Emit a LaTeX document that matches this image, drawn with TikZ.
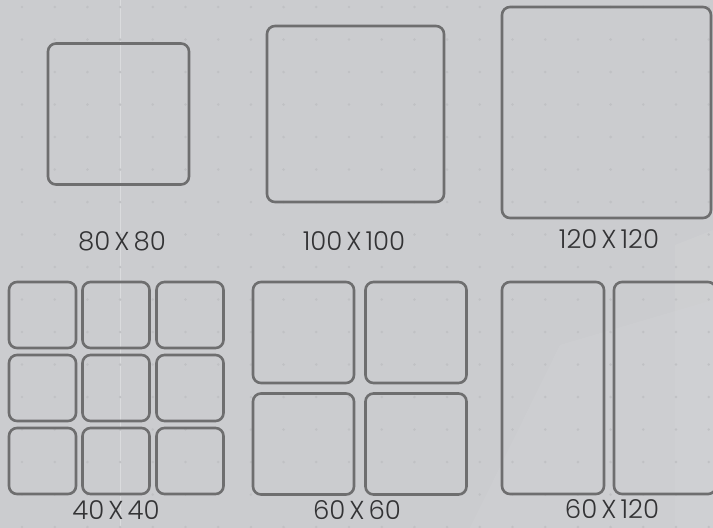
\documentclass[tikz,border=0pt]{standalone}
\usepackage{fontspec}
\newfontfamily\sizefont{Poppins Light}
\definecolor{bggray}{HTML}{CBCCCF}
\definecolor{dotgray}{HTML}{C0C1C4}
\definecolor{tilegray}{HTML}{6E6E6F}
\definecolor{labelgray}{HTML}{333335}
\newcommand{\tilesize}[2]{#1\hspace{4pt}X\hspace{4pt}#2}
\begin{document}
\begin{tikzpicture}[x=1pt,y=-1pt,
	tile/.style={draw=tilegray, line width=2.6pt, rounded corners=8pt, inner sep=0pt},
	sizelabel/.style={font=\sizefont\fontsize{26}{26}\selectfont, text=labelgray, inner sep=0pt}]
	\useasboundingbox (0,0) rectangle (713,528);
	\clip (0,0) rectangle (713,528);
	\fill[bggray] (0,0) rectangle (713,528);
	
	% background pattern
	\fill[white, opacity=.05] (470,528) -- (560,345) -- (713,300) -- (713,528) -- cycle;
	\fill[white, opacity=.06] (675,245) -- (713,230) -- (713,528) -- (675,528) -- cycle;
	\draw[white, opacity=.3, line width=.6pt] (120,0) -- (120,528);
	\foreach \i in {0,...,21}
	\foreach \j in {0,...,16}
	\fill[dotgray] (22+32.7*\i, 7+32.5*\j) circle (1.4);
	
	% single tiles
	\node[tile, minimum width=141pt, minimum height=141pt] (t80) at (118.5,114) {};
	\node[tile, minimum width=177pt, minimum height=176pt] (t100) at (355.5,114) {};
	\node[tile, minimum width=209pt, minimum height=211pt] (t120) at (606.5,112.5) {};
	
	% 40 x 40
	\foreach \c/\x in {1/42.5, 2/116, 3/190}
	\foreach \r/\y in {1/315, 2/388, 3/461}
	\node[tile, minimum width=67pt, minimum height=66pt] (s\c\r) at (\x,\y) {};
	
	% 60 x 60
	\foreach \c/\x in {1/303.5, 2/416}
	\foreach \r/\y in {1/332.5, 2/444}
	\node[tile, minimum width=101pt, minimum height=101pt] (m\c\r) at (\x,\y) {};
	
	% 60 x 120
	\foreach \c/\x in {1/553, 2/665}
	\node[tile, minimum width=102pt, minimum height=212pt] (r\c) at (\x,388) {};
	
	% labels
	\node[sizelabel] (l80) at (122,241) {\tilesize{80}{80}};
	\node[sizelabel] (l100) at (354,241) {\tilesize{100}{100}};
	\node[sizelabel] (l120) at (609,239) {\tilesize{120}{120}};
	\node[sizelabel] (l40) at (116,510) {\tilesize{40}{40}};
	\node[sizelabel] (l60) at (357,510) {\tilesize{60}{60}};
	\node[sizelabel] (l60b) at (612,509) {\tilesize{60}{120}};
\end{tikzpicture}
\end{document}
